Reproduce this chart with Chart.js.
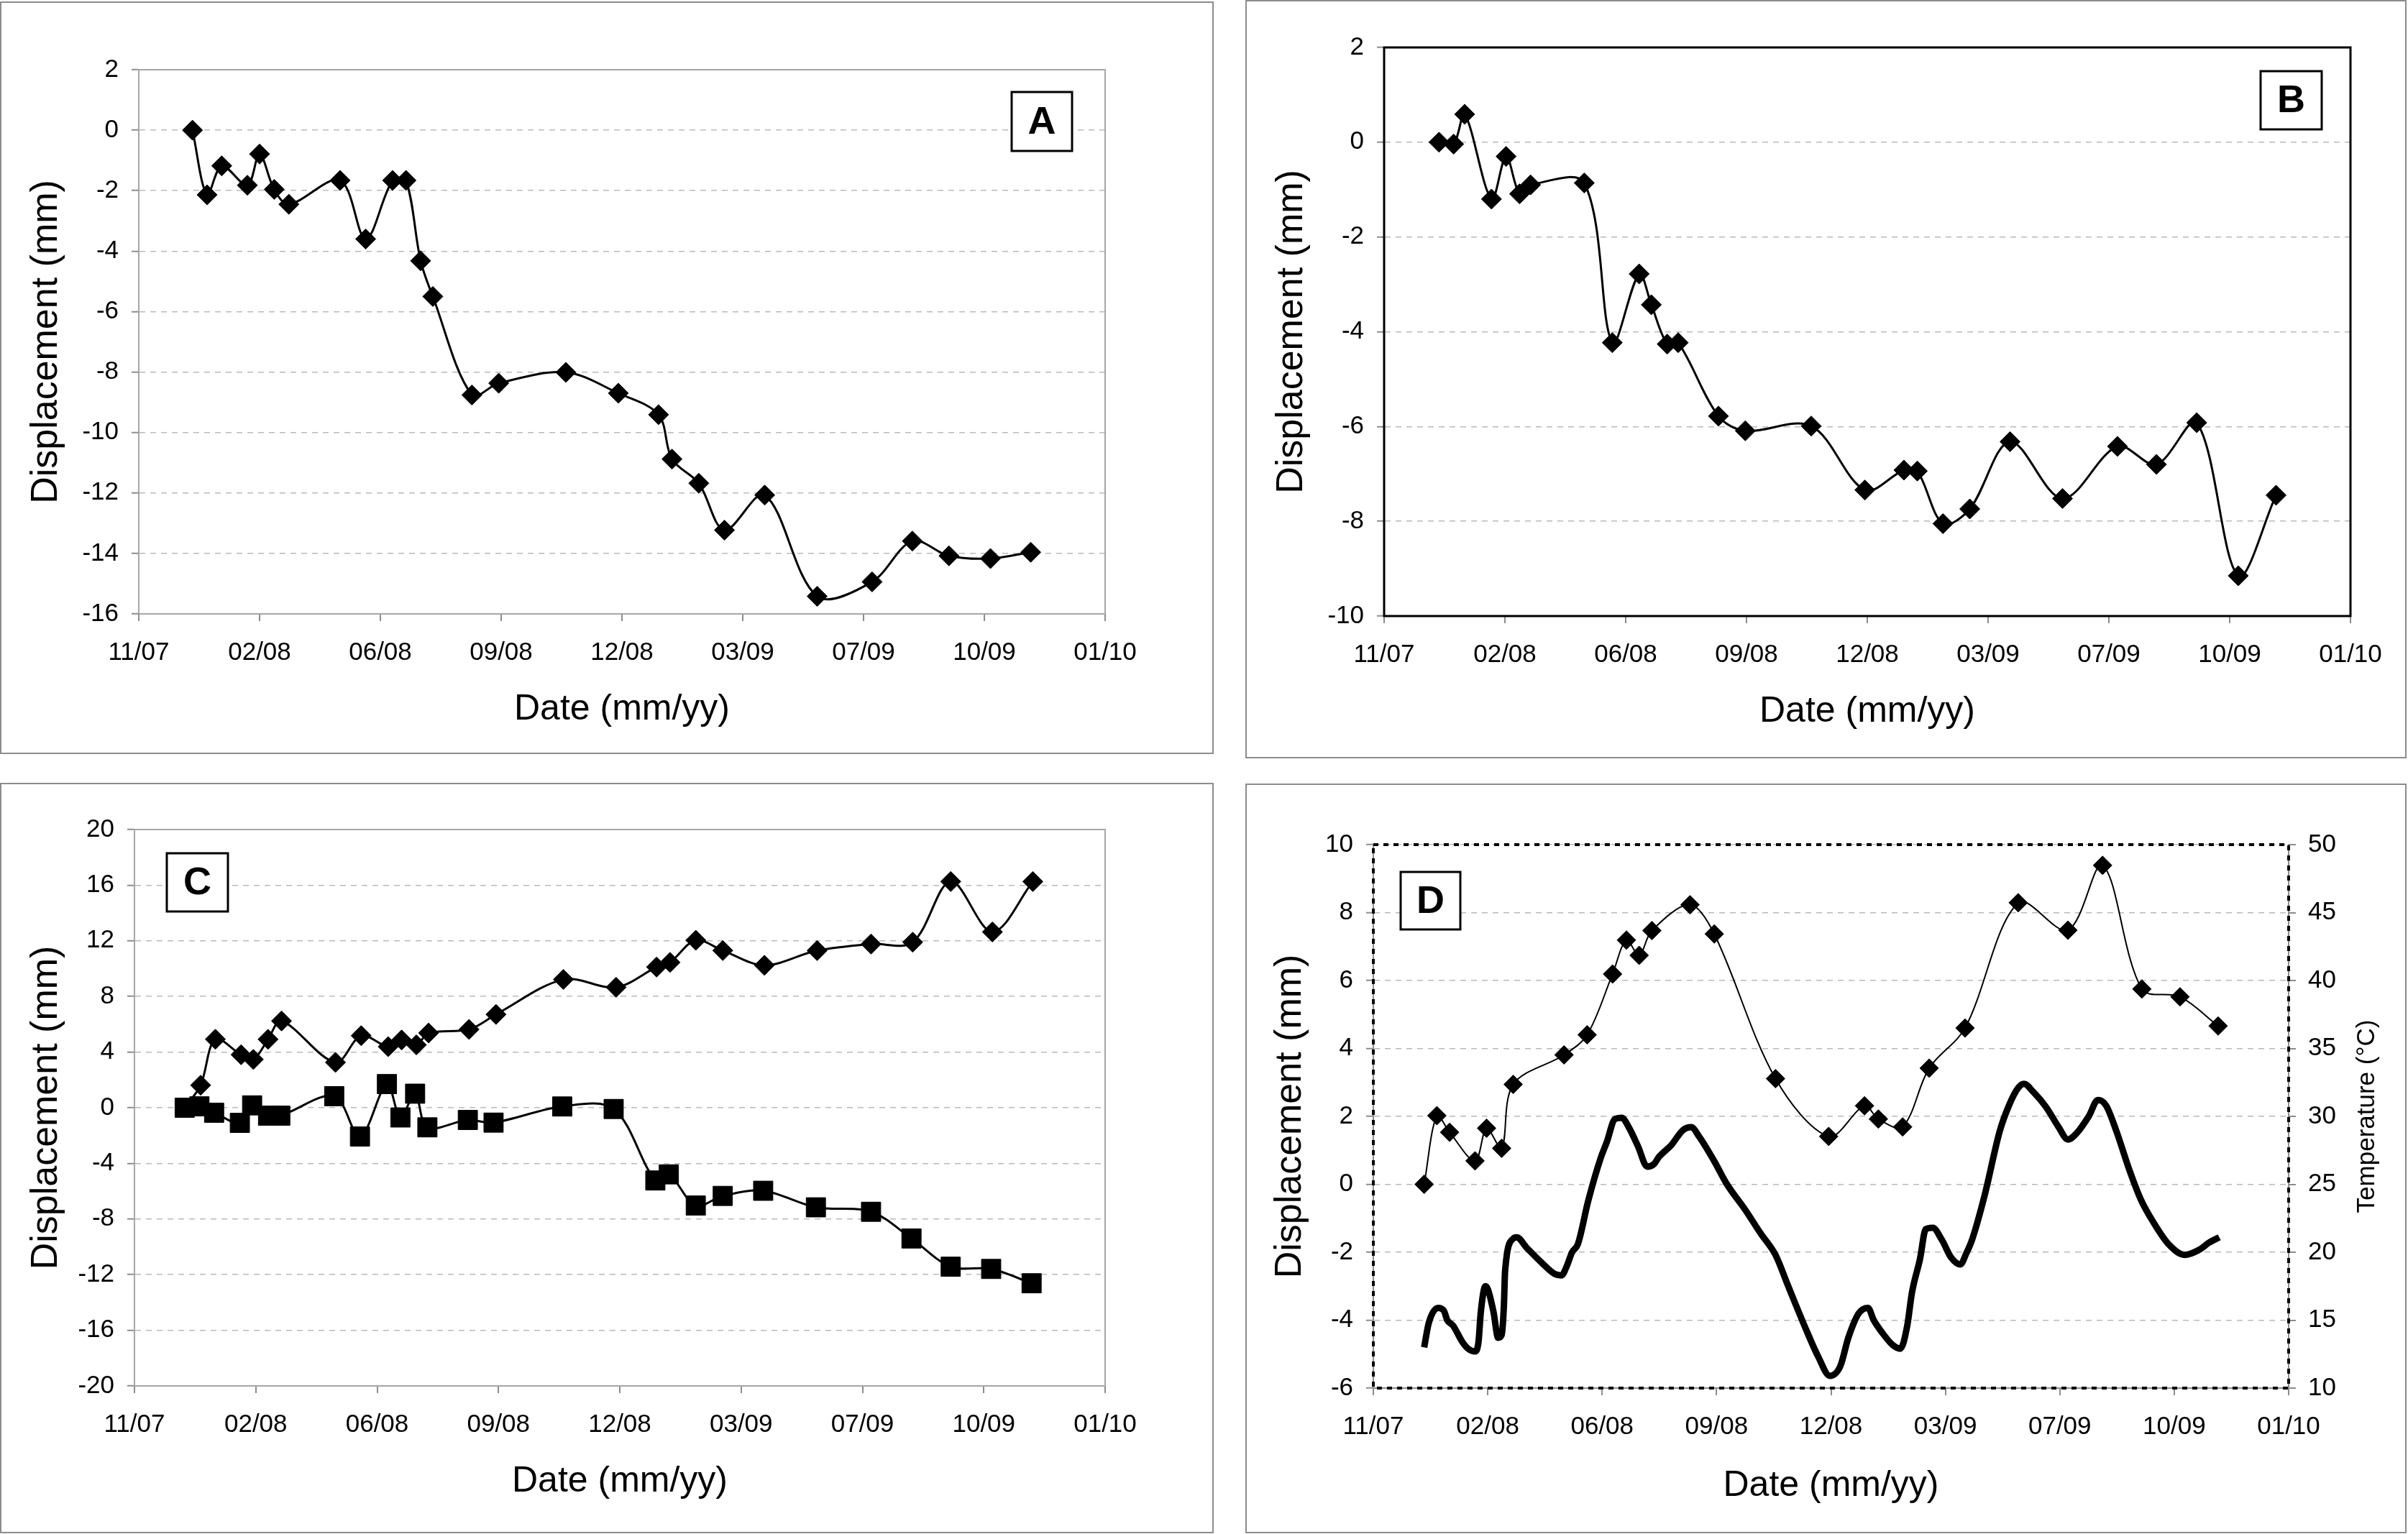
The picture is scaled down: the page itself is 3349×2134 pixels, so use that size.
<!DOCTYPE html>
<html>
<head>
<meta charset="utf-8">
<title>Displacement vs date</title>
<script src="https://cdn.jsdelivr.net/npm/chart.js@4.4.1/dist/chart.umd.min.js"></script>
<style>
  html, body { margin: 0; padding: 0; background: #fff; }
  body { position: relative; width: 3349px; height: 2134px; overflow: hidden; }
  canvas, .frame { position: absolute; }
  .frame { border: 2px solid #8c8c8c; box-sizing: border-box; pointer-events: none; }
</style>
</head>
<body>
<canvas id="chartA" width="1688" height="1067" style="left:0;top:0"></canvas>
<canvas id="chartB" width="1617" height="1055" style="left:1732px;top:0"></canvas>
<canvas id="chartC" width="1688" height="1045" style="left:0;top:1089px"></canvas>
<canvas id="chartD" width="1617" height="1044" style="left:1732px;top:1090px"></canvas>
<div class="frame" style="left:0;top:2px;width:1688px;height:1047px"></div>
<div class="frame" style="left:1732px;top:0;width:1615px;height:1055px"></div>
<div class="frame" style="left:0;top:1089px;width:1688px;height:1044px"></div>
<div class="frame" style="left:1732px;top:1090px;width:1615px;height:1043px"></div>
<script>
// x axis: days counted from the 11/07 tick, labelled ticks every 99 days
const tickLabels = ['11/07', '02/08', '06/08', '09/08', '12/08', '03/09', '07/09', '10/09', '01/10']
const tickStep = 99

// panel A
const daysA = [44, 56, 68, 89, 99, 111, 123, 165, 186, 208, 219, 231, 241, 273, 295, 350, 393, 426, 437, 459, 480, 513, 556, 601, 634, 664, 698, 731]
const dispA = [0, -2.14, -1.18, -1.82, -0.79, -1.96, -2.45, -1.66, -3.6, -1.66, -1.66, -4.32, -5.5, -8.76, -8.37, -8.01, -8.7, -9.41, -10.88, -11.68, -13.23, -12.07, -15.42, -14.94, -13.59, -14.08, -14.17, -13.96]

// panel B
const daysB = [45, 57, 66, 88, 100, 111, 120, 164, 187, 209, 219, 232, 241, 274, 296, 350, 394, 426, 437, 458, 480, 513, 556, 601, 633, 666, 700, 731]
const dispB = [0, -0.04, 0.59, -1.2, -0.3, -1.09, -0.9, -0.86, -4.23, -2.78, -3.43, -4.26, -4.23, -5.78, -6.09, -5.99, -7.34, -6.92, -6.94, -8.05, -7.74, -6.32, -7.52, -6.42, -6.8, -5.92, -9.15, -7.45]

// panel C, two series
const daysC1 = [41, 54, 66, 87, 97, 109, 120, 164, 185, 207, 218, 230, 240, 273, 295, 350, 393, 426, 437, 458, 480, 514, 557, 601, 635, 666, 700, 733]
const dispC1 = [0, 1.62, 4.92, 3.81, 3.47, 4.92, 6.24, 3.26, 5.18, 4.39, 4.87, 4.52, 5.37, 5.63, 6.71, 9.22, 8.66, 10.11, 10.45, 12.04, 11.3, 10.24, 11.3, 11.77, 11.9, 16.26, 12.64, 16.26]
const daysC2 = [41, 53, 65, 86, 96, 109, 119, 163, 184, 206, 217, 229, 239, 272, 293, 349, 391, 425, 436, 458, 480, 513, 556, 601, 634, 666, 699, 732]
const dispC2 = [0, 0.1, -0.36, -1.09, 0.17, -0.57, -0.57, 0.83, -2.07, 1.7, -0.7, 1.01, -1.41, -0.88, -1.07, 0.09, -0.09, -5.23, -4.79, -7.03, -6.34, -5.97, -7.16, -7.48, -9.4, -11.43, -11.59, -12.62]

// panel D, displacement and temperature
const daysD = [44, 55, 66, 88, 98, 111, 121, 165, 185, 207, 219, 230, 241, 274, 295, 348, 394, 425, 437, 458, 481, 512, 558, 601, 631, 665, 698, 731]
const dispD = [0, 2.02, 1.53, 0.69, 1.65, 1.06, 2.94, 3.81, 4.4, 6.19, 7.19, 6.74, 7.47, 8.23, 7.37, 3.11, 1.41, 2.31, 1.92, 1.69, 3.42, 4.6, 8.29, 7.48, 9.39, 5.75, 5.52, 4.66]
const tempDays = [44, 48, 56, 61, 64, 69, 77, 82, 88, 91, 93, 97, 99, 104, 108, 111, 113, 114, 121, 124, 133, 146, 157, 163, 167, 172, 177, 186, 197, 202, 209, 215, 221, 229, 237, 243, 247, 258, 268, 275, 282, 295, 306, 322, 335, 348, 359, 375, 385, 395, 404, 411, 420, 428, 433, 441, 449, 456, 462, 466, 473, 478, 484, 492, 500, 508, 513, 518, 529, 542, 550, 558, 563, 571, 582, 593, 601, 609, 619, 627, 634, 643, 654, 664, 675, 688, 702, 715, 723, 732]
const tempC = [13.0, 14.8, 15.9, 15.7, 15.0, 14.6, 13.4, 12.9, 12.7, 13.4, 15.6, 17.5, 17.3, 15.6, 13.7, 13.9, 16.1, 18.6, 21.0, 21.1, 20.3, 19.2, 18.4, 18.3, 18.9, 20.0, 20.6, 23.8, 27.0, 28.1, 29.8, 29.9, 29.2, 27.8, 26.3, 26.5, 27.0, 27.9, 29.0, 29.2, 28.5, 26.7, 25.0, 23.1, 21.4, 19.8, 17.5, 14.2, 12.3, 10.9, 11.6, 13.7, 15.5, 15.9, 15.0, 14.0, 13.2, 12.9, 14.6, 17.0, 19.5, 21.7, 21.8, 20.9, 19.6, 19.1, 19.9, 20.9, 24.2, 28.9, 30.8, 32.1, 32.4, 31.8, 30.7, 29.2, 28.3, 28.8, 30.0, 31.2, 30.8, 28.9, 26.1, 23.9, 22.2, 20.6, 19.8, 20.2, 20.7, 21.1]

const fontFamily = "'Liberation Sans', Arial, Helvetica, sans-serif"
Chart.defaults.font.family = fontFamily
Chart.defaults.color = '#000'

const axisGray = '#8c8c8c'
const gridGray = '#b9b9b9'

// plot frame, the letter box and the right-hand title of panel D
const decor = {
  id: 'decor',
  beforeDatasetsDraw (chart, args, opts) {
    const f = opts.frame
    if (!f) return
    const {ctx, chartArea: a} = chart
    ctx.save()
    ctx.strokeStyle = f.color
    ctx.lineWidth = f.width
    ctx.setLineDash(f.dash || [])
    ctx.strokeRect(a.left, a.top, a.right - a.left, a.bottom - a.top)
    ctx.restore()
  },
  afterDraw (chart, args, opts) {
    const {ctx, chartArea: a} = chart
    ctx.save()
    const b = opts.box
    if (b) {
      const x = a.left + b.dx, y = a.top + b.dy
      ctx.fillStyle = '#fff'
      ctx.fillRect(x, y, b.w, b.h)
      ctx.strokeStyle = '#000'
      ctx.lineWidth = 3
      ctx.strokeRect(x, y, b.w, b.h)
      ctx.fillStyle = '#000'
      ctx.font = 'bold 54px ' + fontFamily
      ctx.textAlign = 'center'
      ctx.textBaseline = 'middle'
      ctx.fillText(b.text, x + b.w / 2, y + b.h / 2 + 2)
    }
    const t = opts.sideTitle
    if (t) {
      ctx.translate(t.x, (a.top + a.bottom) / 2)
      ctx.rotate(-Math.PI / 2)
      ctx.font = t.size + 'px ' + fontFamily
      ctx.fillStyle = '#000'
      ctx.textAlign = 'center'
      ctx.textBaseline = 'middle'
      ctx.fillText(t.text, 0, 0)
    }
    ctx.restore()
  }
}

const xAxis = (H, bottom, titleY) => ({
  type: 'linear',
  min: 0,
  max: tickStep * (tickLabels.length - 1),
  afterBuildTicks: s => { s.ticks = tickLabels.map((_, i) => ({value: i * tickStep})) },
  ticks: {callback: (v, i) => tickLabels[i], font: {size: 35}, padding: 23, maxRotation: 0, autoSkip: false},
  grid: {drawOnChartArea: false, color: axisGray, lineWidth: 2, tickLength: 10},
  border: {color: axisGray, width: 2},
  title: {display: true, text: 'Date (mm/yy)', font: {size: 50}, padding: {top: 0, bottom: H - titleY - 30}},
  afterFit: s => { s.height = H - bottom }
})

const yAxis = (left, min, max, step, titleX) => ({
  min,
  max,
  ticks: {stepSize: step, font: {size: 35}, padding: 18},
  grid: {color: gridGray, lineWidth: 1.5, tickColor: axisGray, tickWidth: 2, tickLength: 10},
  border: {color: axisGray, width: 2, dash: [8, 7]},
  title: {display: true, text: 'Displacement (mm)', font: {size: 52}, padding: {top: titleX - 31.2, bottom: 0}},
  afterFit: s => { s.width = left }
})

const series = (xs, ys, style) => Object.assign({
  data: xs.map((x, i) => ({x, y: ys[i]})),
  borderColor: '#000',
  backgroundColor: '#000',
  borderWidth: 3,
  pointStyle: 'rectRot',
  pointRadius: 14,
  pointHoverRadius: 14,
  pointBorderWidth: 1,
  tension: 0.33,
  clip: false
}, style)

const drawPanel = (id, plot, yOpts, datasets, decorOpts, y2) => {
  const el = document.getElementById(id)
  const W = el.width, H = el.height
  const [L, T, R, B, titleY, titleX] = plot
  const scales = {
    x: xAxis(H, B, titleY),
    y: yAxis(L, yOpts[0], yOpts[1], yOpts[2], titleX)
  }
  if (y2) {
    scales.y2 = {
      position: 'right',
      min: y2[0],
      max: y2[1],
      ticks: {stepSize: y2[2], font: {size: 35}, padding: 17},
      grid: {drawOnChartArea: false, color: axisGray, lineWidth: 2, tickLength: 10},
      border: {color: axisGray, width: 2},
      afterFit: s => { s.width = W - R }
    }
  }
  return new Chart(el, {
    type: 'line',
    data: {datasets},
    options: {
      responsive: false,
      devicePixelRatio: 1,
      animation: false,
      layout: {padding: {left: 0, top: T, right: y2 ? 0 : W - R, bottom: 0}},
      plugins: {legend: {display: false}, tooltip: {enabled: false}, decor: decorOpts},
      scales
    },
    plugins: [decor]
  })
}

drawPanel('chartA', [193, 97, 1537, 854, 987, 65], [-16, 2, 2],
  [series(daysA, dispA)],
  {frame: {color: '#a6a6a6', width: 2}, box: {text: 'A', dx: 1214, dy: 31, w: 84, h: 82}})

drawPanel('chartB', [193, 66, 1537, 857, 990, 65], [-10, 2, 2],
  [series(daysB, dispB)],
  {frame: {color: '#000', width: 3}, box: {text: 'B', dx: 1219, dy: 33, w: 85, h: 81}})

drawPanel('chartC', [187, 65, 1537, 839, 972, 65], [-20, 20, 4],
  [series(daysC1, dispC1), series(daysC2, dispC2, {pointStyle: 'rect', pointRadius: 19})],
  {frame: {color: '#a6a6a6', width: 2}, box: {text: 'C', dx: 45, dy: 33, w: 85, h: 81}})

drawPanel('chartD', [178, 85, 1451, 841, 977, 63], [-6, 10, 2],
  [
    series(daysD, dispD, {borderWidth: 2, pointRadius: 13}),
    series(tempDays, tempC, {yAxisID: 'y2', borderWidth: 9, pointRadius: 0, pointHoverRadius: 0, cubicInterpolationMode: 'monotone'})
  ],
  {frame: {color: '#000', width: 4, dash: [7, 7]}, box: {text: 'D', dx: 38, dy: 38, w: 83, h: 80},
    sideTitle: {text: 'Temperature (°C)', size: 35, x: 1560}},
  [10, 50, 5])
</script>
</body>
</html>
